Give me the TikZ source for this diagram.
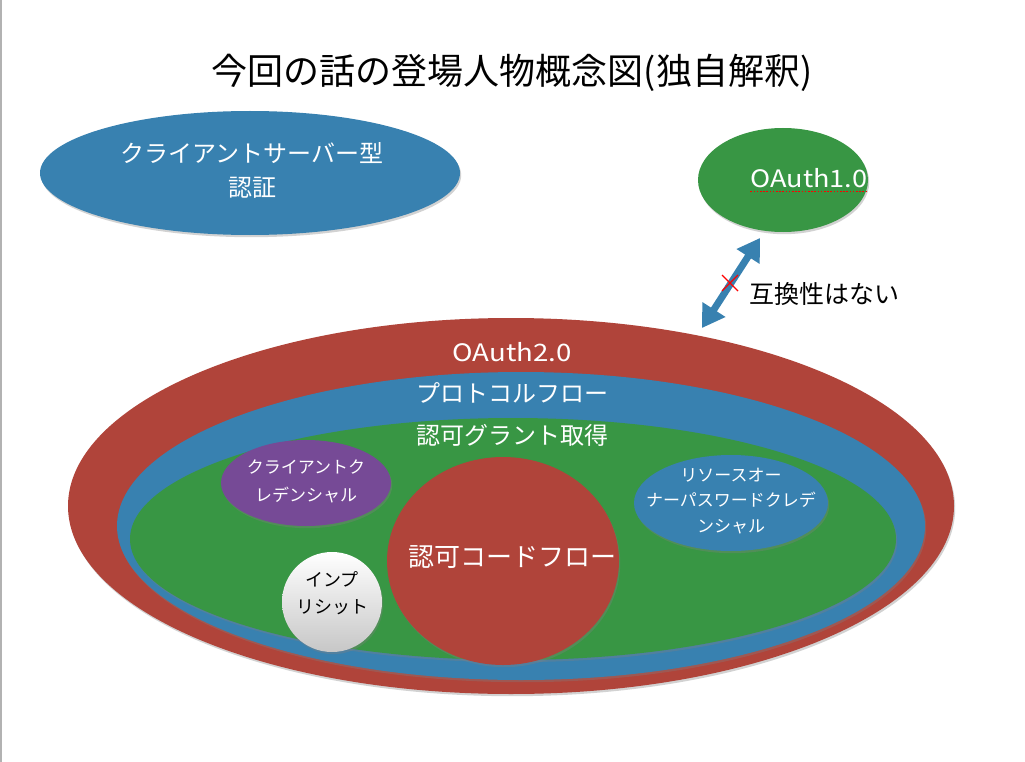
\documentclass[tikz,border=0pt]{standalone}
\usepackage{fontspec}
\setmainfont{Noto Sans CJK JP}
\usetikzlibrary{shapes.geometric,shadows,arrows.meta}
\definecolor{kred}{RGB}{176,68,58}
\definecolor{kblue}{RGB}{56,129,176}
\definecolor{kgreen}{RGB}{56,150,68}
\definecolor{kpurple}{RGB}{118,74,150}
\begin{document}
\begin{tikzpicture}[x=1pt,y=-1pt,
  blob/.style={ellipse, inner sep=0pt, drop shadow={opacity=0.35,shadow xshift=1.2pt,shadow yshift=-2.2pt}},
  lbl/.style={text=white, align=center, inner sep=0pt},
  fbig/.style={font=\fontsize{24}{34}\selectfont},
  fsmall/.style={font=\fontsize{17}{26}\selectfont},
]
\useasboundingbox (0,0) rectangle (1025,762);
\fill[white] (0,0) rectangle (1025,762);
\draw[gray!60, line width=1.5pt] (0.75,0) -- (0.75,762);

% title
\node[inner sep=0pt, font=\fontsize{36}{40}\selectfont] (title) at (512,73) {今回の話の登場人物概念図(独自解釈)};

% client-server
\node[blob, fill=kblue, minimum width=420pt, minimum height=124pt] (cs) at (250,173) {};
\node[lbl, fbig] (cst) at (252,170) {クライアントサーバー型\\認証};

% OAuth1.0
\node[blob, fill=kgreen, minimum width=170pt, minimum height=104pt] (o1) at (783,180) {};
\node[lbl, fbig] (o1t) at (809,178) {\scalebox{1.13}[1]{OAuth1.0}};
\draw[red, line width=1.6pt, dash pattern=on 1.6pt off 1.6pt] ([yshift=-4pt]o1t.base west) -- ([yshift=-4pt]o1t.base east);

% OAuth2.0 nest
\node[blob, fill=kred, minimum width=886pt, minimum height=376pt] (o2) at (511,506) {};
\node[blob, fill=kblue, minimum width=808pt, minimum height=308pt] (pf) at (521,526) {};
\node[blob, fill=kgreen, minimum width=766pt, minimum height=242pt] (gr) at (513,539) {};
\node[lbl, fbig] (o2t) at (512,352) {\scalebox{1.15}[1]{OAuth2.0}};
\node[lbl, fbig] (pft) at (512,393) {プロトコルフロー};
\node[lbl, fbig] (grt) at (512,435) {認可グラント取得};

% grant types
\node[blob, fill=kpurple, minimum width=170pt, minimum height=86pt] (cc) at (306,483) {};
\node[lbl, font=\fontsize{17}{28}\selectfont] (cct) at (306,481) {クライアントク\\レデンシャル};

\node[blob, fill=kred, minimum width=232pt, minimum height=208pt] (ac) at (503,561) {};
\node[lbl, font=\fontsize{26}{30}\selectfont] (act) at (512,557) {認可コードフロー};

\node[blob, top color=white, bottom color=black!22, minimum width=100pt, minimum height=100pt] (im) at (332,602) {};
\node[lbl, text=black, font=\fontsize{18}{27}\selectfont] (imt) at (332,593) {インプ\\リシット};

\node[blob, fill=kblue, minimum width=194pt, minimum height=96pt] (rp) at (731,503) {};
\node[lbl, font=\fontsize{17}{25.5}\selectfont] (rpt) at (731,501) {リソースオー\\ナーパスワードクレデ\\ンシャル};

% incompatibility arrow
\coordinate (a1) at (760,238);
\coordinate (a2) at (702,328);
\draw[kblue, line width=7pt, {Triangle[width=26pt,length=22pt]}-{Triangle[width=26pt,length=22pt]}] (a2) -- (a1);
\draw[red, line width=1.2pt] (722,275) -- (738,291) (722,291) -- (738,275);
\node[inner sep=0pt, anchor=west, font=\fontsize{25}{30}\selectfont] (nc) at (749,294) {互換性はない};
\end{tikzpicture}
\end{document}
